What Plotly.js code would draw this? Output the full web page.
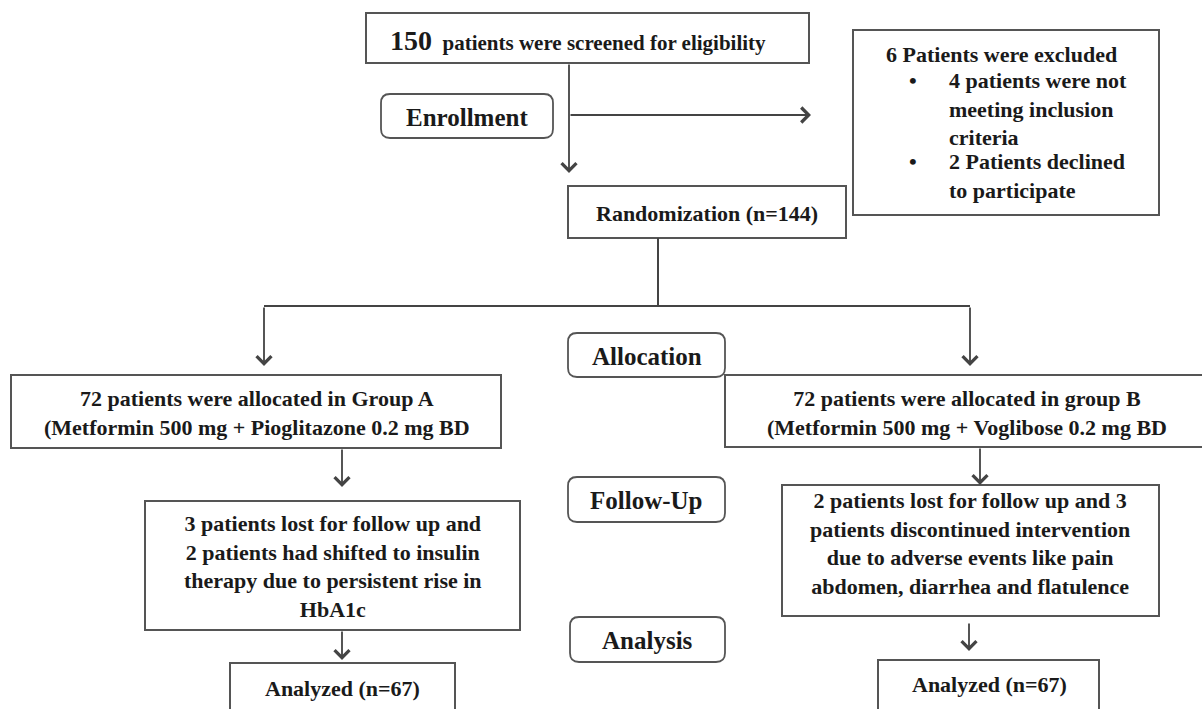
<!DOCTYPE html>
<html>
<head>
<meta charset="utf-8">
<script src="https://cdn.plot.ly/plotly-3.0.1.min.js"></script>
<style>html,body{margin:0;padding:0;background:#fff;}#chart{width:1202px;height:709px;}</style>
</head>
<body>
<div id="chart"></div>
<script>
// ---- content (values & labels) ----
const stageLabels = ['Enrollment', 'Allocation', 'Follow-Up', 'Analysis'];
const screenedCount = 150;
const screenedText = 'patients were screened for eligibility';
const excludedTitle = '6 Patients were excluded';
const excludedReasons = [
  ['4 patients were not', 'meeting inclusion', 'criteria'],
  ['2 Patients declined', 'to participate']
];
const randomizedN = 144;
const groupAText = ['72 patients were allocated in Group A', '(Metformin 500 mg + Pioglitazone 0.2 mg BD'];
const groupBText = ['72 patients were allocated in group B', '(Metformin 500 mg + Voglibose 0.2 mg BD'];
const followUpAText = ['3 patients lost for follow up and', '2 patients had shifted to insulin', 'therapy due to persistent rise in', 'HbA1c'];
const followUpBText = ['2 patients lost for follow up and 3', 'patients discontinued intervention', 'due to adverse events like pain', 'abdomen, diarrhea and flatulence'];
const analyzedN = [67, 67];

// ---- geometry (layout only) ----
const geo = {
  boxes: {
    screen:  [366, 809, 13, 63],
    excl:    [853, 1159, 30, 215],
    rand:    [568, 846, 186, 238],
    grpA:    [11, 501, 375, 448],
    grpB:    [725, 1215, 375, 447],
    fuA:     [145, 520, 501, 630],
    fuB:     [782, 1159, 485, 616],
    anA:     [230, 455, 663, 730],
    anB:     [878, 1099, 660, 730]
  },
  stages: [
    [381, 553, 94, 138],
    [568, 725, 333, 377],
    [568, 725, 477, 522],
    [570, 725, 617, 662]
  ],
  lines: [
    [658, 238, 658, 306],
    [264, 306, 970, 306]
  ],
  arrows: [
    [569, 63, 569, 173],
    [569, 115, 811, 115],
    [264, 306, 264, 366],
    [970, 306, 970, 366],
    [342, 448, 342, 487],
    [980, 447, 980, 485],
    [342, 630, 342, 660],
    [969, 622, 969, 651]
  ]
};

const FONT = 'Liberation Serif';
const BODY = 22;
const TXT = '#1a1a1a';
const LINE = '#444';
const BORDER = '#555';

const shapes = [];
const annotations = [];

function rect(b) {
  shapes.push({type: 'rect', xref: 'x', yref: 'y', x0: b[0], x1: b[1], y0: b[2], y1: b[3],
    line: {color: BORDER, width: 2}, fillcolor: 'rgba(0,0,0,0)', layer: 'above'});
}
function rounded(b, r) {
  const [x0, x1, y0, y1] = b;
  const p = `M${x0 + r},${y0} L${x1 - r},${y0} Q${x1},${y0} ${x1},${y0 + r} L${x1},${y1 - r} Q${x1},${y1} ${x1 - r},${y1} L${x0 + r},${y1} Q${x0},${y1} ${x0},${y1 - r} L${x0},${y0 + r} Q${x0},${y0} ${x0 + r},${y0} Z`;
  shapes.push({type: 'path', xref: 'x', yref: 'y', path: p, line: {color: BORDER, width: 1.8}, fillcolor: 'rgba(0,0,0,0)'});
}
function text(x, y, lines, size, opts) {
  annotations.push(Object.assign({
    x: x, y: y, xref: 'x', yref: 'y', showarrow: false,
    text: '<b>' + (Array.isArray(lines) ? lines.join('<br>') : lines) + '</b>',
    font: {family: FONT, size: size, color: TXT},
    xanchor: 'center', yanchor: 'middle', align: 'center'
  }, opts || {}));
}

Object.values(geo.boxes).forEach(rect);
geo.stages.forEach(b => rounded(b, 9));
geo.lines.forEach(l => shapes.push({type: 'line', xref: 'x', yref: 'y', x0: l[0], y0: l[1], x1: l[2], y1: l[3], line: {color: LINE, width: 2}}));
geo.arrows.forEach(a => annotations.push({
  x: a[2], y: a[3], ax: a[0], ay: a[1], xref: 'x', yref: 'y', axref: 'x', ayref: 'y',
  showarrow: true, arrowhead: 4, arrowsize: 1.6, arrowwidth: 1.8, arrowcolor: LINE, text: ''
}));

// stage labels
const stageCenters = geo.stages.map(b => [(b[0] + b[1]) / 2, (b[2] + b[3]) / 2 + 1]);
stageLabels.forEach((s, i) => text(stageCenters[i][0], stageCenters[i][1], s, 25));

// screened
text(578, 40, `<span style="font-size:28px">${screenedCount}</span>  ${screenedText}`, 21);
// excluded
text(884, 54, excludedTitle, BODY, {xanchor: 'left', align: 'left'});
const exclY = [109, 176];
excludedReasons.forEach((r, i) => {
  text(947, exclY[i], r, BODY, {xanchor: 'left', align: 'left'});
  text(913, exclY[i] - (r.length - 1) * BODY * 0.65, '•', BODY);
});
// randomization
text(707, 213, `Randomization (n=${randomizedN})`, BODY);
// groups
text(257, 413, groupAText, BODY);
text(967, 413, groupBText, BODY);
// follow up
text(333, 566, followUpAText, BODY);
text(970, 543, followUpBText, BODY);
// analyzed
text(342, 688, `Analyzed (n=${analyzedN[0]})`, BODY);
text(989, 684, `Analyzed (n=${analyzedN[1]})`, BODY);

const layout = {
  width: 1202, height: 709,
  margin: {l: 0, r: 0, t: 0, b: 0},
  paper_bgcolor: '#fff', plot_bgcolor: '#fff',
  font: {family: FONT},
  xaxis: {range: [0, 1202], visible: false, fixedrange: true},
  yaxis: {range: [709, 0], visible: false, fixedrange: true},
  shapes: shapes,
  annotations: annotations,
  showlegend: false
};

Plotly.newPlot('chart', [], layout, {staticPlot: true, displayModeBar: false});
</script>
</body>
</html>
